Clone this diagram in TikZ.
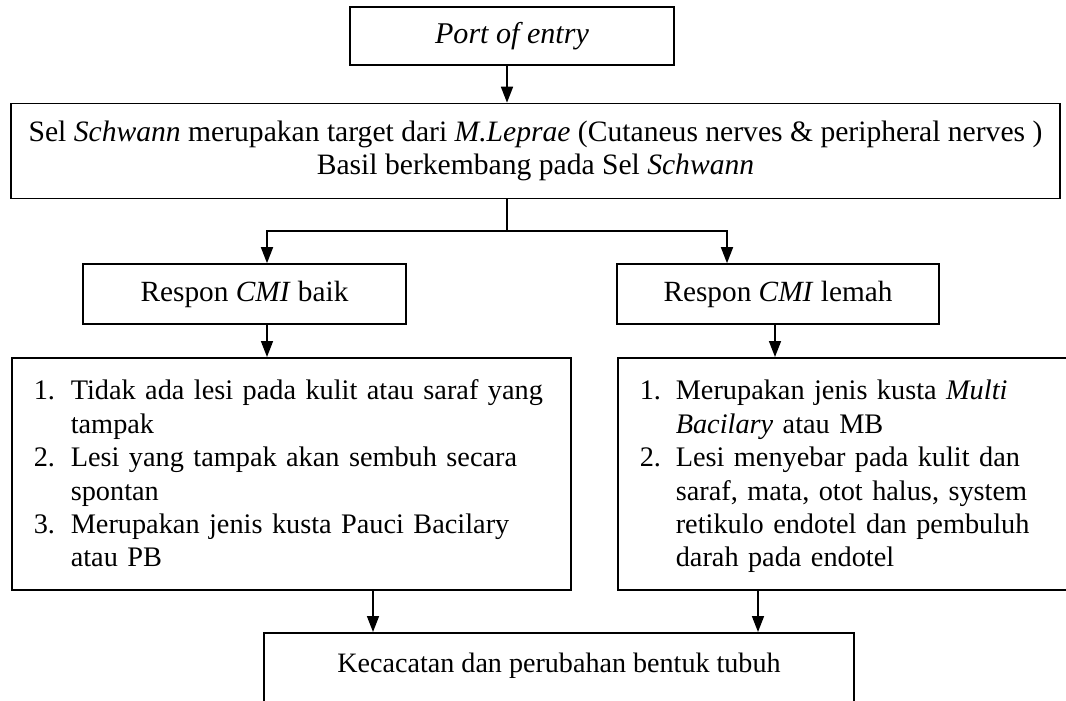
\documentclass[tikz,border=0pt]{standalone}
\usepackage{fontspec}
\setmainfont{Liberation Serif}
\usetikzlibrary{arrows.meta}
\begin{document}
\begin{tikzpicture}[x=1pt,y=-1pt,
  box/.style={draw, line width=1.6pt, inner sep=0pt, align=center},
  listbox/.style={draw, line width=1.6pt, inner xsep=22pt, inner ysep=0pt, align=left, anchor=north west,
    font=\fontsize{28.3}{33.4}\selectfont},
  arr/.style={line width=1.6pt, -{Triangle[length=16pt,width=12pt]}},
  ln/.style={line width=1.6pt}]
\fontsize{29.3}{33.4}\selectfont
\path[use as bounding box] (0,0) rectangle (1066,701);
\clip (0,0) rectangle (1066,701);
\fill[white] (0,0) rectangle (1066,701);

\node[box, minimum width=324pt, minimum height=58pt, font=\fontsize{30.1}{33.4}\selectfont] (top) at (512,36) {\textit{Port of entry}};
\node[box, minimum width=1049pt, minimum height=95pt, font=\fontsize{29.6}{33.4}\selectfont] (big) at (535.5,151)
  {Sel \textit{Schwann} merupakan target dari \textit{M.Leprae} (Cutaneus nerves \& peripheral nerves )\\
   Basil berkembang pada Sel \textit{Schwann}};
\node[box, minimum width=323pt, minimum height=60pt] (baik) at (244.5,294) {Respon \textit{CMI} baik};
\node[box, minimum width=322pt, minimum height=60pt] (lemah) at (778,294) {Respon \textit{CMI} lemah};

\node[listbox, text width=515pt, minimum height=232pt] (listL) at (11,357)
  {\raisebox{-3pt}[\height][\depth]{\begin{tabular}{@{}p{37pt}@{}l@{}}
   1. & Tidak ada lesi pada kulit atau saraf yang\\
      & tampak\\
   2. & Lesi yang tampak akan sembuh secara\\
      & spontan\\
   3. & Merupakan jenis kusta Pauci Bacilary\\
      & atau PB
   \end{tabular}}};
\node[listbox, text width=456pt, minimum height=232pt] (listR) at (617,357)
  {\raisebox{-3pt}[\height][\depth]{\begin{tabular}{@{}p{36pt}@{}l@{}}
   1. & Merupakan jenis kusta \textit{Multi}\\
      & \textit{Bacilary} atau MB\\
   2. & Lesi menyebar pada kulit dan\\
      & saraf, mata, otot halus, system\\
      & retikulo endotel dan pembuluh\\
      & darah pada endotel
   \end{tabular}}};

\node[draw, line width=1.6pt, anchor=north, minimum width=590pt, inner xsep=0pt, inner ysep=10pt,
      text height=30pt, text depth=100pt, font=\fontsize{28.1}{33.4}\selectfont] (bot) at (559,632)
      {Kecacatan dan perubahan bentuk tubuh};

\coordinate (c0) at (507,0);
\coordinate (j) at (507,231);
\coordinate (cL) at (267,0);
\coordinate (cR) at (727,0);
\coordinate (dR) at (775,0);
\coordinate (eL) at (373,0);
\coordinate (eR) at (758,0);

\draw[arr] (c0 |- top.south) -- (c0 |- big.north);
\draw[ln] (c0 |- big.south) -- (j);
\draw[arr] (j) -| (cL |- baik.north);
\draw[arr] (j) -| (cR |- lemah.north);
\draw[arr] (cL |- baik.south) -- (cL |- listL.north);
\draw[arr] (dR |- lemah.south) -- (dR |- listR.north);
\draw[arr] (eL |- listL.south) -- (eL |- bot.north);
\draw[arr] (eR |- listR.south) -- (eR |- bot.north);
\end{tikzpicture}
\end{document}
